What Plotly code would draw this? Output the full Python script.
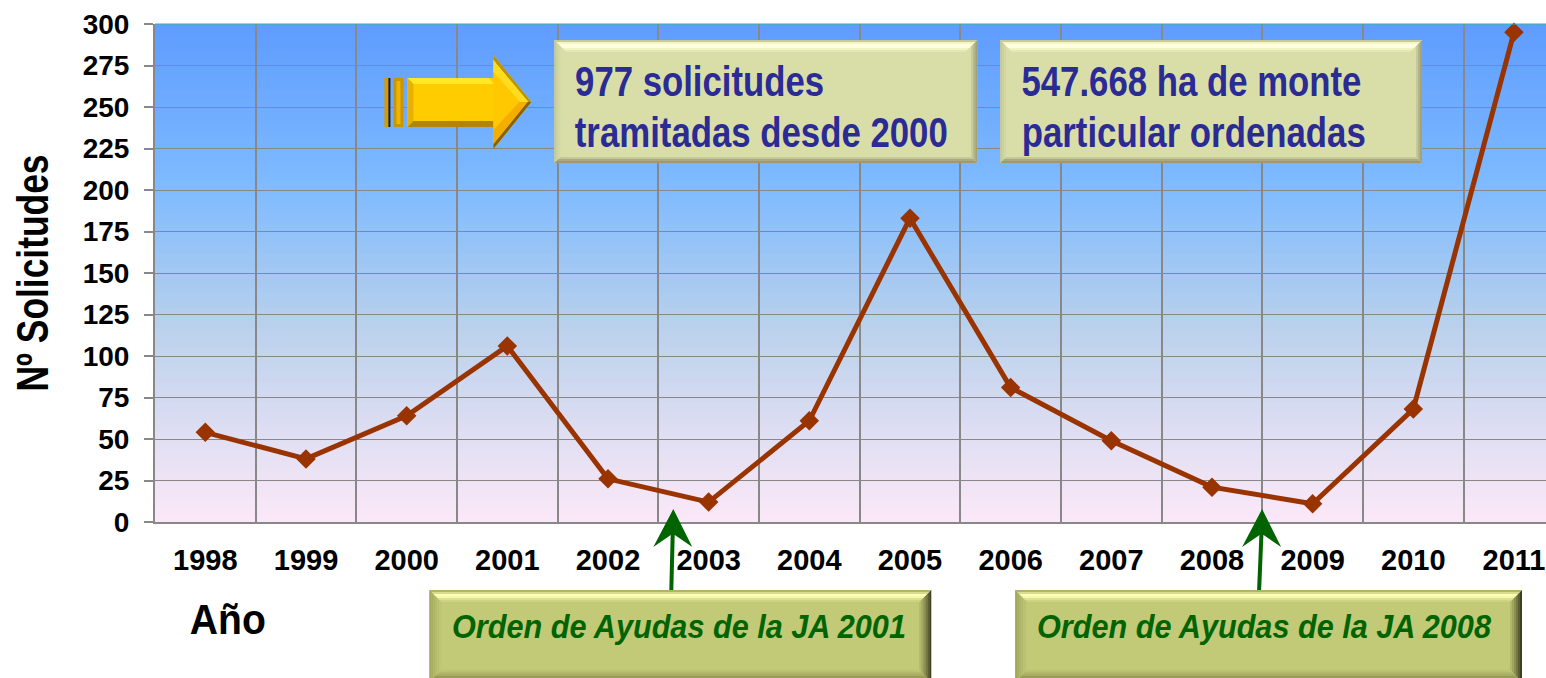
import plotly.graph_objects as go
import json

WIDTH, HEIGHT = 1546, 678
LEFT, TOP, BOTTOM = 154.5, 24, 522
CATEGORY_STEP = 100.7

years = ["1998", "1999", "2000", "2001", "2002", "2003", "2004",
         "2005", "2006", "2007", "2008", "2009", "2010", "2011"]
solicitudes = [54, 38, 64, 106, 26, 12, 61, 183, 81, 49, 21, 11, 68, 295]
y_ticks = list(range(0, 301, 25))
boundaries = [i - 0.5 for i in range(len(years))]
x_end = (WIDTH - LEFT) / CATEGORY_STEP - 0.5

gradient_stops = [(0.0, (94, 156, 255)), (0.33, (127, 187, 255)), (0.6, (184, 208, 236)),
                  (0.85, (228, 224, 243)), (1.0, (251, 232, 248))]

GRID = "#888888"
LINE = "#993300"
NAVY = "#2B2B96"
DGREEN = "#006400"
BODY = "Liberation Sans"

Y_TITLE = "Nº Solicitudes"
# horizontal extents of the condensed lettering: text -> width in px
text_widths = {
    "977 solicitudes": 249,
    "tramitadas desde 2000": 373,
    "547.668 ha de monte": 340,
    "particular ordenadas": 344,
    "Orden de Ayudas de la JA 2001": 454,
    "Orden de Ayudas de la JA 2008": 454,
    "Año": 76,
    Y_TITLE: 237,
}


def X(p):
    return (p - LEFT) / (WIDTH - LEFT)


def Y(p):
    return (BOTTOM - p) / (BOTTOM - TOP)


def poly(points, color, layer="above"):
    d = "M " + " L ".join(f"{X(a):.5f},{Y(b):.5f}" for a, b in points) + " Z"
    return dict(type="path", xref="paper", yref="paper", path=d, fillcolor=color,
                line=dict(width=0), layer=layer)


def bevel(x0, y0, x1, y1, main, top, left, right, bottom, step):
    """Box with graded bevels; each colour list runs from the outer edge inward."""
    out = [poly([(x0, y0), (x1, y0), (x1, y1), (x0, y1)], main)]

    def strips(colors, fn):
        for k, c in enumerate(colors):
            out.append(poly(fn(k * step, (k + 1) * step), c))

    strips(left, lambda p, q: [(x0 + p, y0 + p), (x0 + q, y0 + q), (x0 + q, y1 - q), (x0 + p, y1 - p)])
    strips(right, lambda p, q: [(x1 - p, y0 + p), (x1 - q, y0 + q), (x1 - q, y1 - q), (x1 - p, y1 - p)])
    strips(bottom, lambda p, q: [(x0 + p, y1 - p), (x1 - p, y1 - p), (x1 - q, y1 - q), (x0 + q, y1 - q)])
    strips(top, lambda p, q: [(x0 + p, y0 + p), (x1 - p, y0 + p), (x1 - q, y0 + q), (x0 + q, y0 + q)])
    return out


def mix(t):
    for (t0, c0), (t1, c1) in zip(gradient_stops, gradient_stops[1:]):
        if t <= t1:
            f = (t - t0) / (t1 - t0)
            return "rgb(%d,%d,%d)" % tuple(round(a + (b - a) * f) for a, b in zip(c0, c1))
    return "rgb(%d,%d,%d)" % gradient_stops[-1][1]


shapes = []
N = 100
for i in range(N):
    shapes.append(dict(type="rect", xref="paper", yref="paper", x0=0, x1=1,
                       y0=1 - i / N, y1=1 - (i + 1) / N - 0.002,
                       fillcolor=mix((i + 0.5) / N), line=dict(width=0), layer="below"))

shapes.append(dict(type="line", xref="paper", yref="paper", x0=0, x1=1, y0=1, y1=1,
                   line=dict(color="#2DB8A0", width=1), layer="above"))

# text boxes
for bx in [(554, 977), (1000, 1422)]:
    shapes += bevel(bx[0], 40, bx[1], 163, "#D9DEA9",
                    top=["#C8CB98", "#F4F6C6", "#FFFFE6", "#FFFFDC", "#F2F4C4", "#E4E8B4"],
                    left=["#C4C796", "#CDD19E", "#D3D7A4"],
                    right=["#A0A278", "#B0B288", "#C6C898"],
                    bottom=["#9A9B74", "#A8AA80", "#C4C797"], step=2)
for bx in [(429, 931), (1015, 1522)]:
    shapes += bevel(bx[0], 590, bx[1], 682, "#C2CA78",
                    top=["#B0B46A", "#D8DC8E", "#FFFFB8", "#F6F8AC", "#DDE292", "#CDD382"],
                    left=["#A2A85A", "#A8AE60", "#AEB466", "#B4BA6C", "#BAC072", "#BEC574"],
                    right=["#3E3E22", "#5A5C32", "#757844", "#8C9052", "#A0A65E", "#B2B86A"],
                    bottom=["#80844A", "#8A8E50", "#989C58", "#A6AC62", "#B2B86A", "#BCC272"], step=2)

# green arrows
for base, tip in [(671, 673), (1259, 1262)]:
    shapes.append(poly([(base - 2, 590), (base + 2, 590), (tip + 1.5, 530), (tip - 2.5, 530)], DGREEN))
    shapes.append(poly([(tip, 509), (tip + 19, 547), (tip + 1.5, 535), (tip - 2.5, 535), (tip - 20, 547)], DGREEN))

# yellow arrow
shapes += [
    poly([(384, 78), (388, 78), (388, 127), (384, 127)], "#D89A00"),
    poly([(388, 78), (390, 78), (390, 127), (388, 127)], "#2A1C00"),
    poly([(393, 78), (403, 78), (403, 127), (393, 127)], "#C89600"),
    poly([(396, 81), (400, 81), (400, 124), (396, 124)], "#F0B400"),
    poly([(407, 78), (495, 78), (495, 127), (407, 127)], "#FFCC00"),
    poly([(407, 78), (488, 78), (494, 84), (413, 84)], "#FFE828"),
    poly([(407, 78), (413, 84), (413, 121), (407, 127)], "#E8B000"),
    poly([(407, 127), (413, 121), (493, 121), (493, 127)], "#B08608"),
    poly([(493, 55), (531, 102), (493, 149)], "#FFC800"),
    poly([(493, 55), (531, 102), (528, 102), (493, 60)], "#B89400"),
    poly([(493, 60), (528, 102), (520, 102), (493, 72)], "#FFDC20"),
    poly([(493, 149), (531, 102), (527, 102), (493, 144)], "#8A6000"),
    poly([(493, 144), (527, 102), (519, 102), (493, 130)], "#F4AE00"),
]


def note(text, cx, py, size, color, italic=False):
    return dict(text=text, xref="paper", yref="paper", x=X(cx), y=Y(py), xanchor="center",
                yanchor="middle", showarrow=False,
                font=dict(family=BODY, size=size, color=color, weight="bold",
                          style="italic" if italic else "normal"))


annotations = [
    note("977 solicitudes", 699.5, 81, 42, NAVY),
    note("tramitadas desde 2000", 761.5, 133, 42, NAVY),
    note("547.668 ha de monte", 1191, 81, 42, NAVY),
    note("particular ordenadas", 1193, 133, 42, NAVY),
    note("Orden de Ayudas de la JA 2001", 679, 626, 34, DGREEN, italic=True),
    note("Orden de Ayudas de la JA 2008", 1264, 626, 34, DGREEN, italic=True),
    note("Año", 228, 619, 43, "#000000"),
]

fig = go.Figure(go.Scatter(
    x=list(range(len(years))), y=solicitudes, mode="lines+markers",
    line=dict(color=LINE, width=5),
    marker=dict(symbol="diamond", size=15, color=LINE),
    cliponaxis=False,
))

fig.update_layout(
    width=WIDTH, height=HEIGHT, autosize=False, showlegend=False,
    margin=dict(l=LEFT, r=0, t=TOP, b=HEIGHT - BOTTOM, pad=0),
    paper_bgcolor="white", plot_bgcolor="rgba(0,0,0,0)",
    shapes=shapes, annotations=annotations,
    xaxis=dict(range=[-0.5, x_end], tickmode="array", tickvals=list(range(len(years))),
               ticktext=years, ticks="", showgrid=False, zeroline=False,
               showline=True, linecolor=GRID, linewidth=2, ticklabelstandoff=11,
               tickfont=dict(family=BODY, size=29, color="#000000", weight="bold"),
               minor=dict(tickmode="array", tickvals=boundaries, showgrid=True,
                          gridcolor=GRID, gridwidth=2, ticks="")),
    yaxis=dict(range=[0, 300], tickmode="array", tickvals=y_ticks, ticks="outside",
               ticklen=9, tickwidth=2, tickcolor=GRID, showgrid=True, gridcolor=GRID,
               gridwidth=1, zeroline=False, showline=True, linecolor=GRID, linewidth=2,
               ticklabelstandoff=9,
               tickfont=dict(family=BODY, size=28, color="#000000", weight="bold"),
               title=dict(text=Y_TITLE, standoff=20,
                          font=dict(family=BODY, size=45, color="#000000", weight="bold"))),
)

post = """
document.body.style.margin = '0';
var widths = %s;
document.querySelectorAll('.annotation-text, .ytitle').forEach(function (t) {
  var w = widths[t.textContent];
  if (w) { t.setAttribute('textLength', w); t.setAttribute('lengthAdjust', 'spacingAndGlyphs'); }
});
""" % json.dumps(text_widths, ensure_ascii=False)

fig.write_html("out.html", post_script=post, config={"displayModeBar": False})
